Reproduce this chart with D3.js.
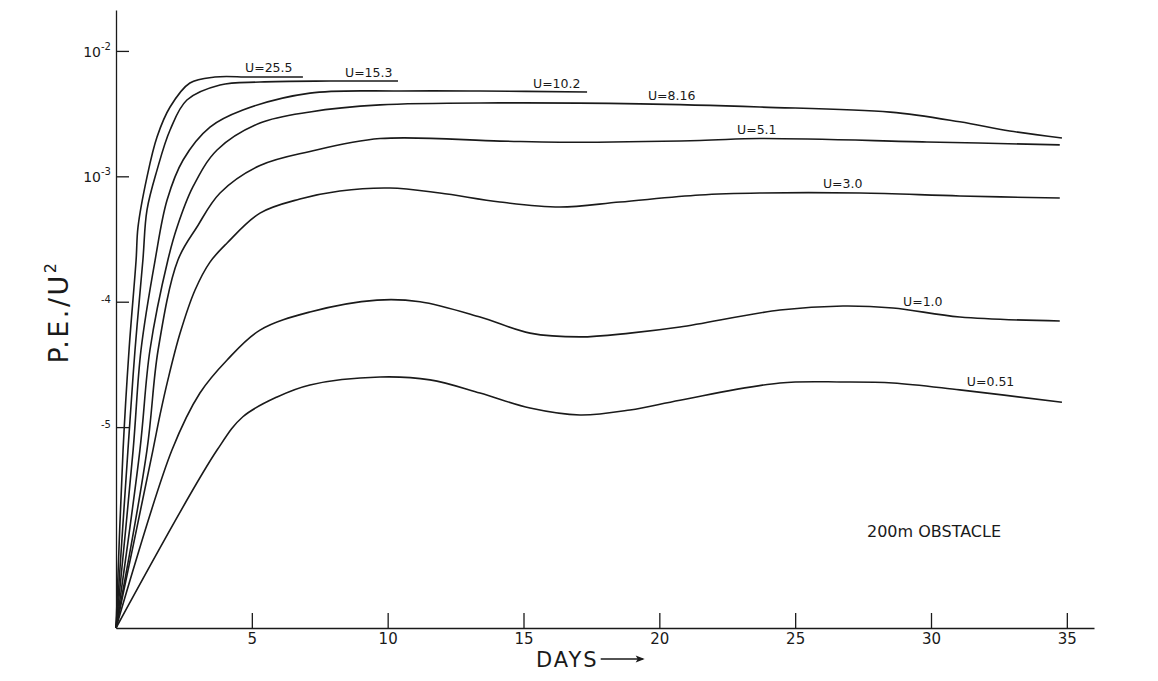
<!DOCTYPE html>
<html>
<head>
<meta charset="utf-8">
<script src="https://cdn.jsdelivr.net/npm/d3@7/dist/d3.min.js"></script>
<style>
  body { margin: 0; background: #fff; }
  svg { display: block; font-family: "DejaVu Sans", sans-serif; }
</style>
</head>
<body>
<div id="chart"></div>
<script>
// P.E./U^2 against days, 200 m obstacle, one curve per flow speed U
var speeds = ["25.5", "15.3", "10.2", "8.16", "5.1", "3.0", "1.0", "0.51"];

var u255 = [[0, 2.5e-7], [0.26, 6.56e-6], [0.48, 4.12e-5], [0.74, 2.15e-4], [0.81, 3.94e-4], [1.14, 9.86e-4],
  [1.51, 2.06e-3], [1.99, 3.57e-3], [2.72, 5.55e-3], [3.64, 6.19e-3], [4.93, 6.19e-3], [6.88, 6.19e-3]];
var u153 = [[0, 2.5e-7], [0.44, 6.56e-6], [0.70, 4.12e-5], [0.99, 2.15e-4], [1.14, 5.38e-4], [1.51, 1.12e-3],
  [1.99, 2.34e-3], [2.61, 4.06e-3], [3.83, 5.35e-3], [5.30, 5.65e-3], [7.88, 5.75e-3], [10.38, 5.75e-3]];
var u102 = [[0, 2.5e-7], [0.63, 6.56e-6], [0.92, 4.12e-5], [1.44, 2.15e-4], [1.88, 6.47e-4], [2.47, 1.35e-3],
  [3.46, 2.47e-3], [4.67, 3.38e-3], [7.14, 4.61e-3], [10.45, 4.79e-3], [13.40, 4.79e-3], [17.34, 4.70e-3]];
var u816 = [[0, 2.5e-7], [0.88, 6.56e-6], [1.25, 4.12e-5], [1.91, 2.15e-4], [2.25, 3.94e-4], [2.83, 8.22e-4],
  [3.72, 1.62e-3], [5.30, 2.66e-3], [7.14, 3.26e-3], [9.72, 3.71e-3], [14.13, 3.85e-3], [19.29, 3.78e-3],
  [23.70, 3.57e-3], [28.50, 3.25e-3], [31.06, 2.72e-3], [32.90, 2.30e-3], [34.82, 2.02e-3]];
var u51 = [[0, 2.5e-7], [1.14, 6.56e-6], [1.55, 4.12e-5], [2.28, 2.15e-4], [2.98, 3.94e-4], [3.83, 7.36e-4],
  [5.30, 1.22e-3], [7.14, 1.58e-3], [9.72, 2.00e-3], [14.13, 1.91e-3], [16.34, 1.87e-3], [21.49, 1.93e-3],
  [23.70, 2.00e-3], [29.85, 1.88e-3], [34.74, 1.78e-3]];
var u30 = [[0, 2.5e-7], [1.36, 6.56e-6], [1.62, 1.25e-5], [1.91, 2.38e-5], [2.36, 5.62e-5], [2.91, 1.24e-4],
  [3.46, 2.07e-4], [4.09, 2.94e-4], [5.30, 5.09e-4], [6.77, 6.59e-4], [8.24, 7.64e-4], [10.08, 8.07e-4],
  [11.92, 7.36e-4], [14.13, 6.24e-4], [16.34, 5.69e-4], [18.55, 6.24e-4], [21.49, 7.10e-4], [23.70, 7.36e-4],
  [27.38, 7.36e-4], [31.06, 6.97e-4], [34.74, 6.71e-4]];
var u10 = [[0, 2.5e-7], [2.06, 6.56e-6], [3.09, 1.87e-5], [4.09, 3.43e-5], [5.30, 5.94e-5], [7.14, 8.28e-5],
  [9.61, 1.03e-4], [11.19, 1.00e-4], [13.40, 7.55e-5], [15.24, 5.62e-5], [17.08, 5.24e-5], [18.92, 5.62e-5],
  [20.76, 6.28e-5], [24.44, 8.59e-5], [26.76, 9.25e-5], [28.60, 8.91e-5], [31.06, 7.55e-5], [34.74, 7.02e-5]];
var u051 = [[0, 2.5e-7], [3.72, 6.56e-6], [4.67, 1.21e-5], [5.93, 1.74e-5], [7.14, 2.17e-5], [9.72, 2.51e-5],
  [11.56, 2.38e-5], [13.40, 1.87e-5], [15.24, 1.42e-5], [17.08, 1.25e-5], [18.92, 1.37e-5], [20.76, 1.64e-5],
  [24.44, 2.25e-5], [26.76, 2.29e-5], [28.60, 2.25e-5], [31.06, 1.98e-5], [34.82, 1.58e-5]];

var series = [u255, u153, u102, u816, u51, u30, u10, u051];

// where each "U=" label sits (day, value at its baseline)
var labelDays = [4.75, 8.43, 15.35, 19.58, 22.86, 26.02, 28.97, 31.32];
var labelValues = [6.79e-3, 6.19e-3, 5.06e-3, 4.06e-3, 2.17e-3, 8.07e-4, 9.25e-5, 2.13e-5];

var xTicks = [5, 10, 15, 20, 25, 30, 35];
var yTicks = [1e-2, 1e-3, 1e-4, 1e-5];
var yTickBase = ["10", "10", "", ""];
var yTickExp = ["-2", "-3", "-4", "-5"];

var width = 1158, height = 681;
var ink = "#1a1a1a";

var svg = d3.select("#chart").append("svg")
    .attr("width", width)
    .attr("height", height);

var x = d3.scaleLinear().domain([0, 36]).range([116, 1094]);
var y = d3.scaleLog().domain([2.5e-7, 2.12e-2]).range([628, 10]);

// x axis, ticks pointing up into the plot
var gx = svg.append("g")
    .attr("transform", "translate(0," + y(2.5e-7) + ")")
    .call(d3.axisBottom(x).tickValues(xTicks).tickSizeInner(-15).tickSizeOuter(0).tickPadding(5));
gx.selectAll("path, line").attr("stroke", ink).attr("stroke-width", 1.3);
gx.selectAll("text")
    .attr("fill", ink)
    .style("font-family", "DejaVu Sans, sans-serif")
    .style("font-size", "15px");

// y axis, ticks pointing right
var gy = svg.append("g")
    .attr("transform", "translate(" + x(0) + ",0)")
    .call(d3.axisLeft(y).tickValues(yTicks).tickSizeInner(-13).tickSizeOuter(0).tickFormat(function () { return ""; }));
gy.selectAll("path, line").attr("stroke", ink).attr("stroke-width", 1.3);

yTicks.forEach(function (v, i) {
    var t = svg.append("text")
        .attr("x", x(0) - 5)
        .attr("text-anchor", "end")
        .attr("fill", ink);
    if (yTickBase[i]) {
        t.attr("y", y(v) + 6);
        t.append("tspan").style("font-size", "14px").text(yTickBase[i]);
        t.append("tspan").style("font-size", "10px").attr("dy", -7).text(yTickExp[i]);
    } else {
        t.attr("y", y(v) + 1)
            .style("font-size", "10px")
            .text(yTickExp[i]);
    }
});

var line = d3.line()
    .x(function (d) { return x(d[0]); })
    .y(function (d) { return y(d[1]); })
    .curve(d3.curveCatmullRom.alpha(0.5));

svg.append("g")
    .selectAll("path")
    .data(series)
    .join("path")
    .attr("d", line)
    .attr("fill", "none")
    .attr("stroke", ink)
    .attr("stroke-width", 1.6)
    .attr("stroke-linejoin", "round");

svg.append("g")
    .selectAll("text")
    .data(speeds)
    .join("text")
    .attr("x", function (d, i) { return x(labelDays[i]); })
    .attr("y", function (d, i) { return y(labelValues[i]); })
    .attr("fill", ink)
    .style("font-size", "12.5px")
    .text(function (d) { return "U=" + d; });

// axis titles
var yTitle = svg.append("text")
    .attr("transform", "translate(68,312) rotate(-90)")
    .attr("text-anchor", "middle")
    .attr("fill", ink)
    .style("font-size", "27px")
    .style("letter-spacing", "2.5px");
yTitle.append("tspan").text("P.E./U");
yTitle.append("tspan").attr("dy", -12).style("font-size", "16px").text("2");

var days = svg.append("text")
    .attr("x", 536)
    .attr("y", 667)
    .attr("fill", ink)
    .style("font-size", "21px")
    .style("letter-spacing", "2px")
    .text("DAYS");
var ax = 536 + days.node().getComputedTextLength() + 2;
svg.append("path")
    .attr("d", "M" + ax + ",659 H" + (ax + 42))
    .attr("stroke", ink)
    .attr("stroke-width", 1.4);
svg.append("path")
    .attr("d", "M" + (ax + 44) + ",659 l-9,-3.5 l2,3.5 l-2,3.5 z")
    .attr("fill", ink);

svg.append("text")
    .attr("x", 867)
    .attr("y", 537)
    .attr("fill", ink)
    .style("font-size", "16px")
    .text("200m OBSTACLE");
</script>
</body>
</html>
